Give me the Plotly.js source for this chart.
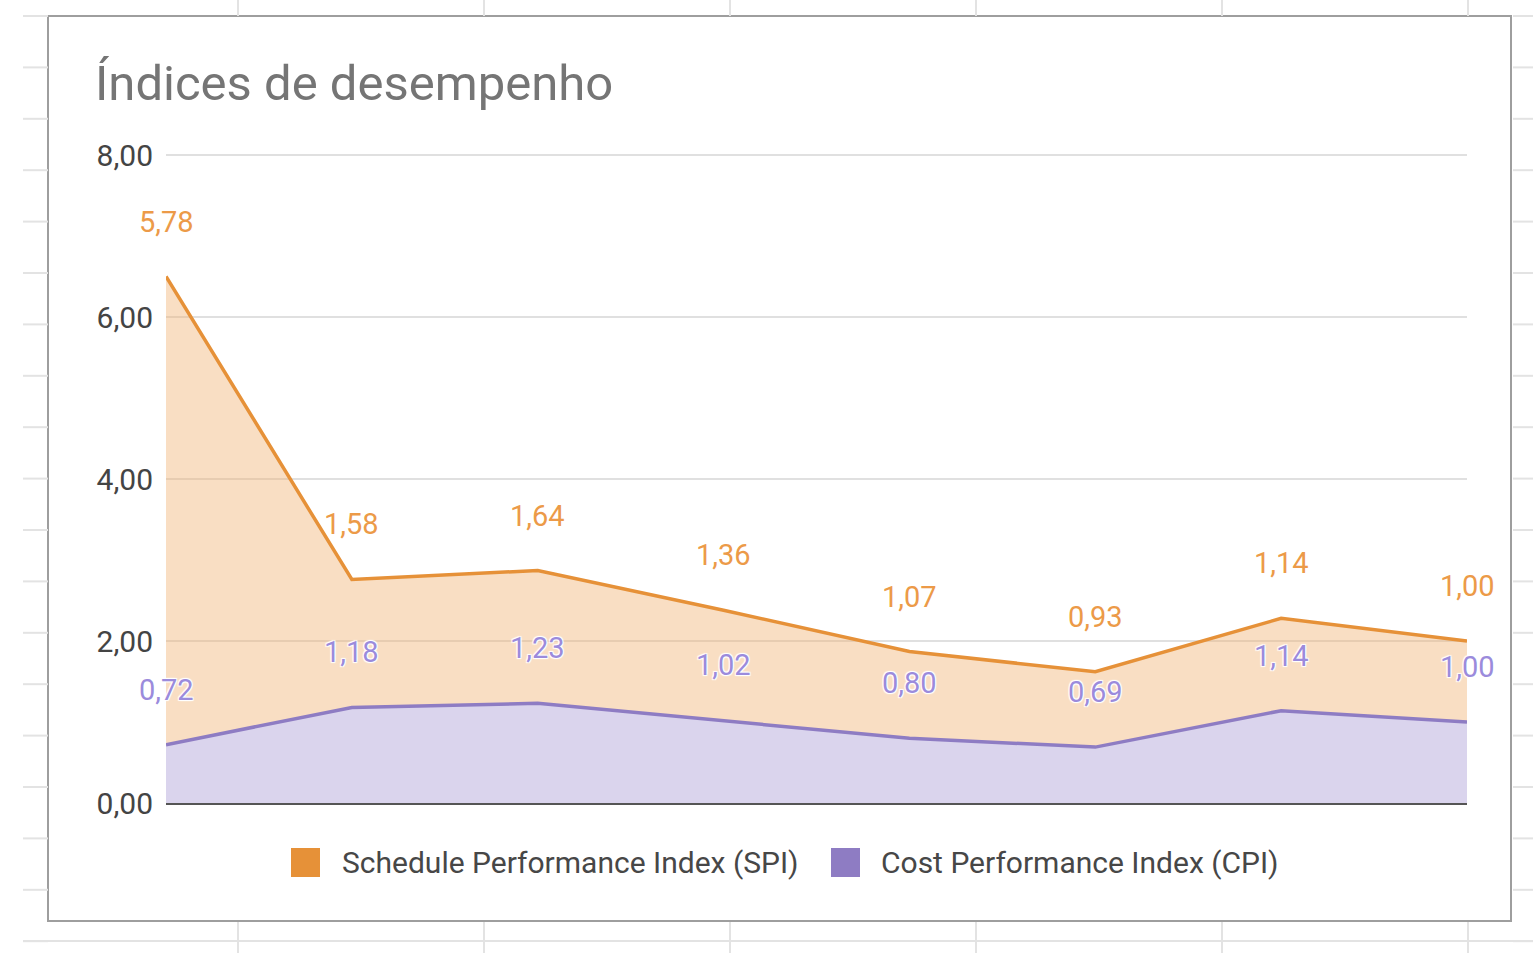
<!DOCTYPE html>
<html>
<head>
<meta charset="utf-8">
<script src="https://cdn.plot.ly/plotly-3.0.1.min.js"></script>
<style>
html,body{margin:0;padding:0;background:#ffffff;}
#chart{width:1533px;height:953px;}
</style>
</head>
<body>
<div id="chart"></div>
<script>
// ---- data ----
const periods = ["1", "2", "3", "4", "5", "6", "7", "8"];
const spiValues = [5.78, 1.58, 1.64, 1.36, 1.07, 0.93, 1.14, 1.00];
const cpiValues = [0.72, 1.18, 1.23, 1.02, 0.80, 0.69, 1.14, 1.00];
const seriesNames = ["Schedule Performance Index (SPI)", "Cost Performance Index (CPI)"];
const yTicks = [0, 2, 4, 6, 8];
const chartTitle = "Índices de desempenho";

// ---- styles ----
const W = 1533, H = 953;
const M = {l: 166, r: 66, t: 153, b: 150};
const PW = W - M.l - M.r, PH = H - M.t - M.b;
const px = x => (x - M.l) / PW;          // pixel -> paper x
const py = y => (H - M.b - y) / PH;      // pixel -> paper y

const orange = "#e69138", orangeFill = "rgba(240,176,112,0.42)", orangeText = "#ec9a48";
const purple = "#8e7cc3", purpleFill = "rgba(196,185,226,0.62)", purpleText = "#9b8bdc";
const fontFam = "Roboto, Arial, sans-serif";
const fmt = v => v.toFixed(2).replace(".", ",");
const halo = "1px 1px 1px #fff, -1px -1px 1px #fff, 1px -1px 1px #fff, -1px 1px 1px #fff";

const traces = [
  {
    x: periods, y: cpiValues, name: seriesNames[1], type: "scatter", mode: "lines",
    stackgroup: "one", line: {color: purple, width: 3.5}, fillcolor: purpleFill,
    showlegend: false, hoverinfo: "y"
  },
  {
    x: periods, y: spiValues, name: seriesNames[0], type: "scatter", mode: "lines",
    stackgroup: "one", line: {color: orange, width: 3.5}, fillcolor: orangeFill,
    showlegend: false, hoverinfo: "y"
  }
];

// data labels (x given as category index)
const annotations = [];
periods.forEach((p, i) => {
  annotations.push({
    x: i, y: cpiValues[i] + spiValues[i], text: fmt(spiValues[i]), showarrow: false,
    yshift: 55, font: {family: fontFam, size: 29, color: orangeText, shadow: halo}
  });
  annotations.push({
    x: i, y: cpiValues[i], text: fmt(cpiValues[i]), showarrow: false,
    yshift: 55, font: {family: fontFam, size: 29, color: purpleText, shadow: halo}
  });
});

// legend (manual, to get large square swatches)
const legendItems = [
  {name: seriesNames[0], color: orange, sx: 291, tx: 340},
  {name: seriesNames[1], color: purple, sx: 831, tx: 879}
];
const shapes = [];
legendItems.forEach(it => {
  shapes.push({type: "rect", xref: "paper", yref: "paper",
    x0: px(it.sx), x1: px(it.sx + 29), y0: py(877), y1: py(848),
    fillcolor: it.color, line: {width: 0}});
  annotations.push({xref: "paper", yref: "paper", x: px(it.tx), y: py(862),
    xanchor: "left", yanchor: "middle", showarrow: false, text: it.name,
    font: {family: fontFam, size: 30, color: "#474747"}});
});

// surrounding spreadsheet grid (decoration)
const gridCol = "#e3e3e3";
for (let k = 0; k <= 18; k++) {
  const y = 16 + 51.4 * k;
  shapes.push({type: "line", xref: "paper", yref: "paper", x0: px(23), x1: px(48), y0: py(y), y1: py(y), line: {color: gridCol, width: 2}});
  shapes.push({type: "line", xref: "paper", yref: "paper", x0: px(1513), x1: px(1533), y0: py(y), y1: py(y), line: {color: gridCol, width: 2}});
}
shapes.push({type: "line", xref: "paper", yref: "paper", x0: px(23), x1: px(1533), y0: py(941), y1: py(941), line: {color: gridCol, width: 2}});
for (let k = 0; k < 6; k++) {
  const x = 238 + 246 * k;
  shapes.push({type: "line", xref: "paper", yref: "paper", x0: px(x), x1: px(x), y0: py(0), y1: py(16), line: {color: gridCol, width: 2}});
  shapes.push({type: "line", xref: "paper", yref: "paper", x0: px(x), x1: px(x), y0: py(922), y1: py(953), line: {color: gridCol, width: 2}});
}
// chart frame
shapes.push({type: "rect", xref: "paper", yref: "paper", layer: "below",
  x0: px(48), x1: px(1511), y0: py(921), y1: py(16), line: {color: "#9e9e9e", width: 2}, fillcolor: "rgba(0,0,0,0)"});

const layout = {
  width: W, height: H,
  margin: M,
  paper_bgcolor: "#ffffff", plot_bgcolor: "rgba(0,0,0,0)",
  separators: ",.",
  font: {family: fontFam, color: "#444444"},
  title: {
    text: chartTitle, xref: "container", yref: "container",
    x: 95 / W, xanchor: "left", y: 1 - 83 / H, yanchor: "middle",
    font: {family: fontFam, size: 49, color: "#757575"}
  },
  xaxis: {
    type: "category", range: [0, periods.length - 1], showgrid: false,
    showticklabels: false, ticks: "", showline: true, linecolor: "#555555", linewidth: 2,
    zeroline: false, fixedrange: true
  },
  yaxis: {
    range: [0, 8.025], tickvals: yTicks, tickformat: ".2f", showgrid: true, gridcolor: "#e0e0e0", gridwidth: 2,
    zeroline: false, ticks: "", ticklabelstandoff: 12,
    tickfont: {family: fontFam, size: 30, color: "#444444"}, fixedrange: true
  },
  showlegend: false,
  annotations: annotations,
  shapes: shapes
};

Plotly.newPlot("chart", traces, layout, {displayModeBar: false, staticPlot: true});
</script>
</body>
</html>
